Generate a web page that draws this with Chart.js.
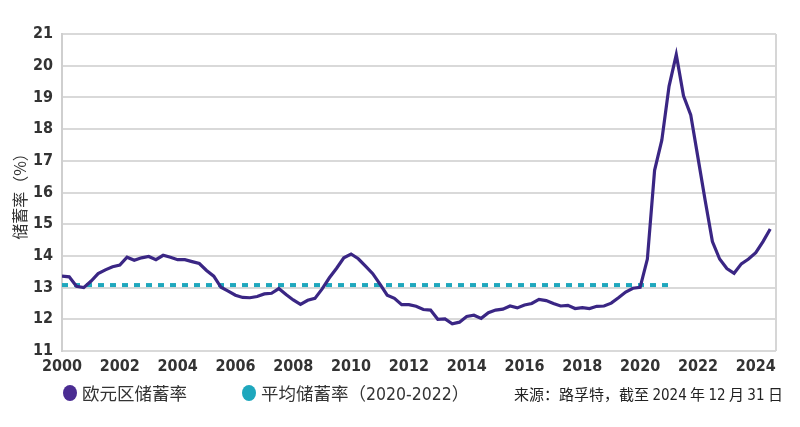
<!DOCTYPE html>
<html>
<head>
<meta charset="utf-8">
<script src="https://cdn.jsdelivr.net/npm/chart.js@4"></script>
<style>
    body { margin: 0; background: #fff; }
    #wrap { position: relative; width: 800px; height: 427px; }
    .legend { position: absolute; top: 380px; font-family: "Noto Sans CJK SC", sans-serif; color: #333; display: flex; align-items: center; }
    .dot { width: 14px; height: 16px; border-radius: 50%; margin-right: 5px; }
    .lab { font-size: 17.5px; }
    .num { font-family: "Liberation Sans Narrow", "DejaVu Sans", sans-serif; font-stretch: condensed; }
    .src { position: absolute; top: 383px; left: 514px; font-family: "Noto Sans CJK SC", sans-serif; font-size: 15px; color: #222; }
</style>
</head>
<body>
<div id="wrap">
    <canvas id="myChart" width="800" height="427"></canvas>
    <div class="legend" style="left:63px"><div class="dot" style="background:#4a2c92"></div><span class="lab">欧元区储蓄率</span></div>
    <div class="legend" style="left:242px"><div class="dot" style="background:#1ea7bd"></div><span class="lab">平均储蓄率（<span class="num">2020-2022</span>）</span></div>
    <div class="src">来源：路孚特，截至 <span class="num">2024</span> 年 <span class="num">12</span> 月 <span class="num">31</span> 日</div>
</div>
<script>
const startYear = 2000;
// euro area household saving rate, quarterly from 2000 Q1 to 2024 Q3
const savingRate = [
    13.36, 13.34, 13.04, 13.0,
    13.2, 13.44, 13.56, 13.66,
    13.71, 13.96, 13.86, 13.94,
    13.98, 13.88, 14.02, 13.96,
    13.88, 13.88, 13.82, 13.76,
    13.54, 13.36, 13.01, 12.89,
    12.76, 12.69, 12.68, 12.72,
    12.8, 12.82, 12.97, 12.78,
    12.61, 12.47, 12.6, 12.66,
    12.96, 13.31, 13.61, 13.94,
    14.06, 13.91, 13.68, 13.44,
    13.11, 12.76, 12.66, 12.46,
    12.46, 12.41, 12.31, 12.29,
    12.0, 12.01, 11.86, 11.91,
    12.09, 12.13, 12.03, 12.21,
    12.29, 12.32, 12.42, 12.36,
    12.45, 12.5, 12.63, 12.59,
    12.5, 12.42, 12.44, 12.34,
    12.37, 12.34, 12.41, 12.42,
    12.51, 12.68, 12.86, 12.98,
    13.01, 13.9, 16.7, 17.65,
    19.35, 20.35, 19.05, 18.45,
    17.1, 15.75, 14.45, 13.9,
    13.6, 13.45, 13.75, 13.9,
    14.1, 14.45, 14.85
];
const avgRate = 13.08;
const avgRange = [2000, 2021];
const yearTicks = [2000, 2002, 2004, 2006, 2008, 2010, 2012, 2014, 2016, 2018, 2020, 2022, 2024];

const tickFont = { family: '"Liberation Sans Narrow", "DejaVu Sans", "Liberation Sans", sans-serif', size: 16, weight: 'bold condensed' };

const rightBorder = {
    id: 'rightBorder',
    beforeDatasetsDraw(chart) {
        const { ctx, chartArea } = chart;
        ctx.save();
        ctx.strokeStyle = '#d6d6d6';
        ctx.lineWidth = 2;
        ctx.beginPath();
        ctx.moveTo(chartArea.right, chartArea.top);
        ctx.lineTo(chartArea.right, chartArea.bottom);
        ctx.stroke();
        ctx.restore();
    }
};

const ctx = document.getElementById('myChart').getContext('2d');
new Chart(ctx, {
    type: 'line',
    data: {
        datasets: [{
            label: '欧元区储蓄率',
            data: savingRate.map((v, i) => ({ x: startYear + i / 4, y: v })),
            borderColor: '#3a2684',
            borderWidth: 3.2,
            pointRadius: 0,
            tension: 0,
            order: 1
        }, {
            label: '平均储蓄率（2020-2022）',
            data: avgRange.map(x => ({ x: x, y: avgRate })),
            borderColor: '#1ea7bd',
            borderWidth: 4,
            borderDash: [6, 6],
            pointRadius: 0,
            order: 2
        }]
    },
    options: {
        responsive: false,
        animation: false,
        layout: { padding: { left: 0, right: 24, top: 34, bottom: 56 } },
        plugins: { legend: { display: false }, tooltip: { enabled: false } },
        scales: {
            x: {
                type: 'linear',
                min: 2000,
                max: 2024.7,
                afterBuildTicks: (scale) => { scale.ticks = yearTicks.map(v => ({ value: v })); },
                afterFit: (scale) => { scale.height = 20; },
                ticks: { color: '#333', font: tickFont, padding: 6, maxRotation: 0, autoSkip: false, callback: (v) => String(v) },
                grid: { display: false, drawTicks: false },
                border: { display: false }
            },
            y: {
                min: 11,
                max: 21,
                afterFit: (scale) => { scale.width = 62; },
                ticks: { stepSize: 1, color: '#333', font: tickFont, padding: 9 },
                grid: { color: '#d9d9d9', lineWidth: 2, drawTicks: false },
                border: { display: true, color: '#cfcfcf', width: 2 },
                title: {
                    display: true,
                    text: '储蓄率（%）',
                    color: '#333',
                    font: { family: '"Noto Sans CJK SC", sans-serif', size: 16 },
                    padding: { top: 10, bottom: 0 }
                }
            }
        }
    },
    plugins: [rightBorder]
});
</script>
</body>
</html>
